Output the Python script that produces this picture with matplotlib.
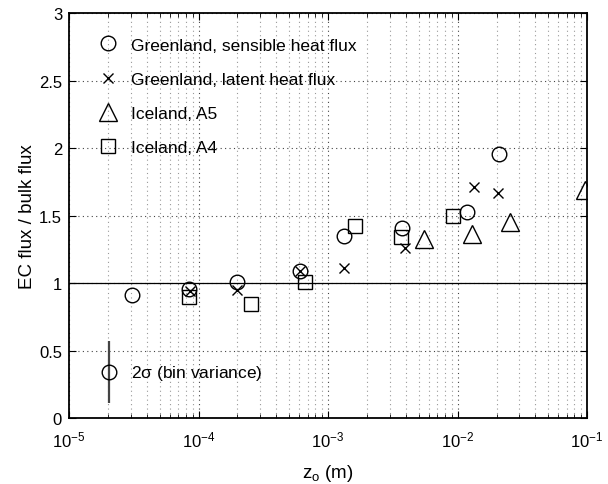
import matplotlib
matplotlib.use('Agg')
import matplotlib.pyplot as plt
from matplotlib.ticker import LogLocator, NullFormatter

plt.rcParams['font.family'] = ['Liberation Sans', 'DejaVu Sans']
plt.rcParams['mathtext.fontset'] = 'custom'
plt.rcParams['mathtext.rm'] = 'Liberation Sans'
plt.rcParams['mathtext.it'] = 'Liberation Sans'

# Greenland, sensible heat flux
gs_z0 = [3.05e-5, 8.4e-5, 2.0e-4, 6.1e-4, 1.33e-3, 3.7e-3, 1.19e-2, 2.1e-2]
gs_ratio = [0.91, 0.955, 1.01, 1.09, 1.35, 1.41, 1.53, 1.955]
# Greenland, latent heat flux
gl_z0 = [8.6e-5, 2.0e-4, 6.1e-4, 1.33e-3, 3.9e-3, 1.33e-2, 2.05e-2]
gl_ratio = [0.94, 0.945, 1.09, 1.11, 1.26, 1.71, 1.67]
# Iceland, A5
a5_z0 = [5.5e-3, 1.30e-2, 2.56e-2, 0.097]
a5_ratio = [1.33, 1.36, 1.45, 1.69]
# Iceland, A4
a4_z0 = [8.4e-5, 2.56e-4, 6.65e-4, 1.61e-3, 3.65e-3, 9.3e-3]
a4_ratio = [0.90, 0.845, 1.01, 1.42, 1.34, 1.50]

# example 2-sigma bar
err_z0 = 2.03e-5
err_ratio = 0.34
err_sigma = 0.23

fig = plt.figure(figsize=(6.08, 4.85), dpi=100)
ax = fig.add_axes([0.1135, 0.136, 0.852, 0.835])

mk = dict(linestyle='none', color='black', markerfacecolor='none', markeredgewidth=1.0)
ax.plot(gs_z0, gs_ratio, marker='o', markersize=10.5, label='Greenland, sensible heat flux', **mk)
ax.plot(gl_z0, gl_ratio, marker='x', markersize=7, label='Greenland, latent heat flux', **mk)
ax.plot(a5_z0, a5_ratio, marker='^', markersize=13, label='Iceland, A5', **mk)
ax.plot(a4_z0, a4_ratio, marker='s', markersize=9.5, label='Iceland, A4', **mk)

ax.axhline(1, color='black', linewidth=0.9, zorder=1)

ax.errorbar([err_z0], [err_ratio], yerr=[err_sigma], fmt='o', markersize=10.5,
            markerfacecolor='none', color='black', ecolor='#444444', elinewidth=1.6,
            capsize=0, markeredgewidth=1.0)
ax.text(3.0e-5, err_ratio, r'2$\mathregular{\sigma}$ (bin variance)', fontsize=12.5,
        va='center', ha='left')

ax.set_xscale('log')
ax.set_xlim(1e-5, 1e-1)
ax.set_ylim(0, 3)
ax.set_yticks([0, 0.5, 1, 1.5, 2, 2.5, 3])
ax.set_yticklabels(['0', '0.5', '1', '1.5', '2', '2.5', '3'])
ax.xaxis.set_major_locator(LogLocator(base=10, numticks=10))
ax.xaxis.set_minor_locator(LogLocator(base=10, subs=range(2, 10), numticks=20))
ax.xaxis.set_minor_formatter(NullFormatter())

ax.grid(True, which='major', axis='both', linestyle=(0, (1, 3)), color='#444444', linewidth=0.8)
ax.grid(True, which='minor', axis='x', linestyle=(0, (1, 3)), color='#999999', linewidth=0.8)
ax.set_axisbelow(True)

ax.tick_params(which='both', direction='in', top=True, right=True, labelsize=12, pad=5)
ax.tick_params(axis='x', which='major', pad=8)
ax.tick_params(which='major', length=5)
ax.tick_params(which='minor', length=3)
for s in ax.spines.values():
    s.set_linewidth(1.3)

ax.set_xlabel(r'z$_\mathregular{o}$ (m)', fontsize=13.5, labelpad=9)
ax.set_ylabel('EC flux / bulk flux', fontsize=13.5, labelpad=2)

ax.legend(loc='upper left', frameon=False, fontsize=12.5, labelspacing=1.1,
          handletextpad=0.6, borderaxespad=0, borderpad=0,
          bbox_to_anchor=(0.05, 0.94), handlelength=1.5)

fig.savefig('out.png', dpi=100)
